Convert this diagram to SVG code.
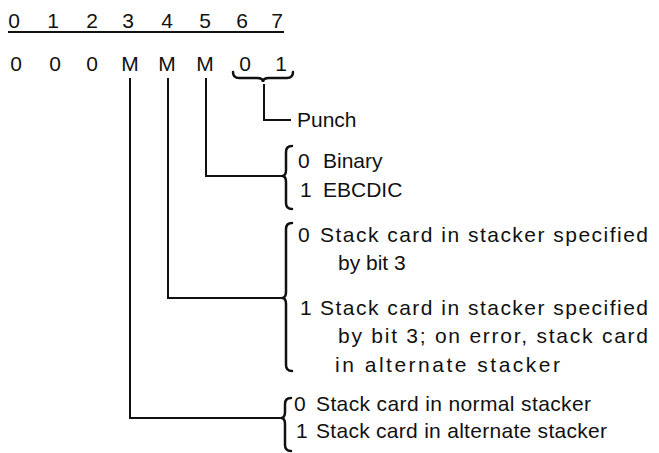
<svg xmlns="http://www.w3.org/2000/svg" width="659" height="453" viewBox="0 0 659 453">
<style>
text{font-family:"Liberation Sans",Arial,sans-serif;font-size:21px;fill:#111}
.c{text-anchor:middle}
.ln{fill:none;stroke:#111;stroke-width:2;stroke-linejoin:miter;stroke-linecap:square}
.br{fill:none;stroke:#111;stroke-width:2.5;stroke-linecap:round}
</style>
<rect width="659" height="453" fill="#fff"/>
<g id="header">
<text class="c" x="14" y="28">0</text>
<text class="c" x="53" y="28">1</text>
<text class="c" x="92" y="28">2</text>
<text class="c" x="128" y="28">3</text>
<text class="c" x="167" y="28">4</text>
<text class="c" x="205" y="28">5</text>
<text class="c" x="242" y="28">6</text>
<text class="c" x="277" y="28">7</text>
<line class="ln" x1="9" y1="32" x2="283" y2="32"/>
</g>
<g id="bits">
<text class="c" x="16" y="71">0</text>
<text class="c" x="55" y="71">0</text>
<text class="c" x="92" y="71">0</text>
<text class="c" x="130" y="71">M</text>
<text class="c" x="167" y="71">M</text>
<text class="c" x="205" y="71">M</text>
<text class="c" x="245" y="71">0</text>
<text class="c" x="281" y="71">1</text>
<path class="br" d="M233,72 Q233,78 239,78 L257,78 Q263,78 263,82 Q263,78 269,78 L287,78 Q293,78 293,72"/>
</g>
<g id="punch">
<text x="297" y="127">Punch</text>
</g>
<g id="code">
<path class="br" d="M292,146 Q286,146 286,152 L286,170 Q286,176 282,176 Q286,176 286,182 L286,203 Q286,209 292,209"/>
<text x="298" y="168">0</text>
<text x="323" y="168">Binary</text>
<text x="300" y="197">1</text>
<text x="323" y="197">EBCDIC</text>
</g>
<g id="error">
<path class="br" d="M292,223 Q286,223 286,229 L286,292 Q286,298 282,298 Q286,298 286,304 L286,365 Q286,371 292,371"/>
<text x="298" y="242">0</text>
<text x="320" y="242" textLength="328" lengthAdjust="spacing">Stack card in stacker specified</text>
<text x="338" y="270">by bit 3</text>
<text x="300" y="315">1</text>
<text x="320" y="315" textLength="328" lengthAdjust="spacing">Stack card in stacker specified</text>
<text x="338" y="343" textLength="310" lengthAdjust="spacing">by bit 3; on error, stack card</text>
<text x="335" y="372" textLength="225" lengthAdjust="spacing">in alternate stacker</text>
</g>
<g id="stacker">
<path class="br" d="M291,398 Q285,398 285,404 L285,412 Q285,418 281,418 Q285,418 285,424 L285,445 Q285,451 291,451"/>
<text x="294" y="411">0</text>
<text x="316" y="411" textLength="275" lengthAdjust="spacing">Stack card in normal stacker</text>
<text x="296" y="438">1</text>
<text x="316" y="438" textLength="291" lengthAdjust="spacing">Stack card in alternate stacker</text>
</g>
<g id="connectors">
<polyline class="ln" points="264,85 264,120 290,120"/>
<polyline class="ln" points="206,79 206,176 281,176"/>
<polyline class="ln" points="168,79 168,298 281,298"/>
<polyline class="ln" points="130,79 130,418 280,418"/>
</g>
</svg>
